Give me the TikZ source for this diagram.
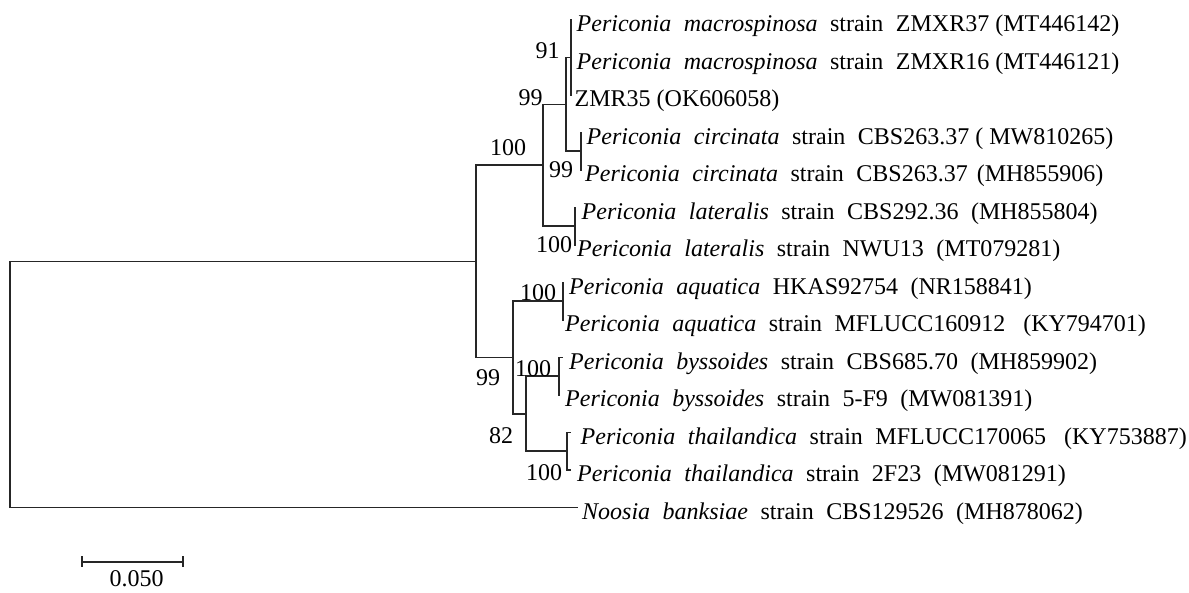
\documentclass[tikz,border=0pt]{standalone}
\usepackage{fontspec}
\setmainfont{Liberation Serif}
\newcommand\wsp{\hspace{12.5pt}}
\newcommand\wspp{\hspace{18pt}}
\begin{document}
\begin{tikzpicture}[x=1pt,y=-1pt,
  tree/.style={draw=black!85, line width=1.8pt, line cap=rect},
  txt/.style={font=\fontsize{24}{28}\selectfont, inner sep=0pt, text=black},
  leaf/.style={txt, anchor=base west},
  boot/.style={txt, anchor=center}]
\useasboundingbox[fill=white] (0,0) rectangle (1189,592);
% tips
\coordinate (t1) at (571,20);
\coordinate (t2) at (571,57.5);
\coordinate (t3) at (571,95);
\coordinate (t4) at (580.7,132.5);
\coordinate (t5) at (580.7,170);
\coordinate (t6) at (575,207.5);
\coordinate (t7) at (575,245);
\coordinate (t8) at (563.3,282.5);
\coordinate (t9) at (563.3,320);
\coordinate (t10) at (562,357.5);
\coordinate (t11) at (559,395);
\coordinate (t12) at (570.5,432.5);
\coordinate (t13) at (570.5,470);
\coordinate (t14) at (577,507.5);
% internal nodes
\coordinate (nA) at (571,57.5);
\coordinate (nC) at (580.7,151.25);
\coordinate (nB) at (566,104.4);
\coordinate (nE) at (575,226.25);
\coordinate (nD) at (542.7,165.3);
\coordinate (nF) at (563.3,301.25);
\coordinate (nG) at (559,376.25);
\coordinate (nH) at (567.3,451.25);
\coordinate (nI) at (525.7,413.75);
\coordinate (nJ) at (513.3,357.5);
\coordinate (nK) at (476,261.4);
\coordinate (root) at (10,384.5);
% edges
\draw[tree] (nA) |- (t1);
\draw[tree] (nA) |- (t2);
\draw[tree] (nA) |- (t3);
\draw[tree] (nC) |- (t4);
\draw[tree] (nC) |- (t5);
\draw[tree] (nB) |- (nA);
\draw[tree] (nB) |- (nC);
\draw[tree] (nE) |- (t6);
\draw[tree] (nE) |- (t7);
\draw[tree] (nD) |- (nB);
\draw[tree] (nD) |- (nE);
\draw[tree] (nF) |- (t8);
\draw[tree] (nF) |- (t9);
\draw[tree] (nG) |- (t10);
\draw[tree] (nG) |- (t11);
\draw[tree] (nH) |- (t12);
\draw[tree] (nH) |- (t13);
\draw[tree] (nI) |- (nG);
\draw[tree] (nI) |- (nH);
\draw[tree] (nJ) |- (nF);
\draw[tree] (nJ) |- (nI);
\draw[tree] (nK) |- (nD);
\draw[tree] (nK) |- (nJ);
\draw[tree] (root) |- (nK);
\draw[tree] (root) |- (t14);
% leaf labels
\node[leaf] (s1) at (576.5,31.5) {\textit{Periconia}\wsp\textit{macrospinosa}\wsp strain\wsp ZMXR37 (MT446142)};
\node[leaf] (s2) at (576.5,69) {\textit{Periconia}\wsp\textit{macrospinosa}\wsp strain\wsp ZMXR16 (MT446121)};
\node[leaf] (s3) at (574.5,106.5) {ZMR35 (OK606058)};
\node[leaf] (s4) at (586.5,144) {\textit{Periconia}\wsp\textit{circinata}\wsp strain\wsp CBS263.37 ( MW810265)};
\node[leaf] (s5) at (585,181.5) {\textit{Periconia}\wsp\textit{circinata}\wsp strain\wsp CBS263.37\hspace{9pt}(MH855906)};
\node[leaf] (s6) at (581.5,219) {\textit{Periconia}\wsp\textit{lateralis}\wsp strain\wsp CBS292.36\wsp(MH855804)};
\node[leaf] (s7) at (577,256.5) {\textit{Periconia}\wsp\textit{lateralis}\wsp strain\wsp NWU13\wsp(MT079281)};
\node[leaf] (s8) at (569,294) {\textit{Periconia}\wsp\textit{aquatica}\wsp HKAS92754\wsp(NR158841)};
\node[leaf] (s9) at (565,331.5) {\textit{Periconia}\wsp\textit{aquatica}\wsp strain\wsp MFLUCC160912\wspp(KY794701)};
\node[leaf] (s10) at (569,369) {\textit{Periconia}\wsp\textit{byssoides}\wsp strain\wsp CBS685.70\wsp(MH859902)};
\node[leaf] (s11) at (565,406.5) {\textit{Periconia}\wsp\textit{byssoides}\wsp strain\wsp 5-F9\wsp(MW081391)};
\node[leaf] (s12) at (580.5,444) {\textit{Periconia}\wsp\textit{thailandica}\wsp strain\wsp MFLUCC170065\wspp(KY753887)};
\node[leaf] (s13) at (577,481.5) {\textit{Periconia}\wsp\textit{thailandica}\wsp strain\wsp 2F23\wsp(MW081291)};
\node[leaf] (s14) at (582,519) {\textit{Noosia}\wsp\textit{banksiae}\wsp strain\wsp CBS129526\wsp(MH878062)};
% bootstrap values
\node[boot] (bA) at (547.5,51) {91};
\node[boot] (bB) at (530.5,97.5) {99};
\node[boot] (bD) at (508,148) {100};
\node[boot] (bC) at (561,170) {99};
\node[boot] (bE) at (554,245) {100};
\node[boot] (bF) at (538,293) {100};
\node[boot] (bJ) at (488,378) {99};
\node[boot] (bG) at (533,369) {100};
\node[boot] (bI) at (501,436) {82};
\node[boot] (bH) at (544,473) {100};
% scale bar
\coordinate (sb1) at (81.7,561.7);
\coordinate (sb2) at (182.7,561.7);
\draw[tree, line cap=butt] (sb1) -- (sb2);
\draw[tree, line cap=butt] ([yshift=5.5pt]sb1) -- ([yshift=-5.5pt]sb1);
\draw[tree, line cap=butt] ([yshift=5.5pt]sb2) -- ([yshift=-5.5pt]sb2);
\node[boot] (sbl) at (136.7,579) {0.050};
\end{tikzpicture}
\end{document}
